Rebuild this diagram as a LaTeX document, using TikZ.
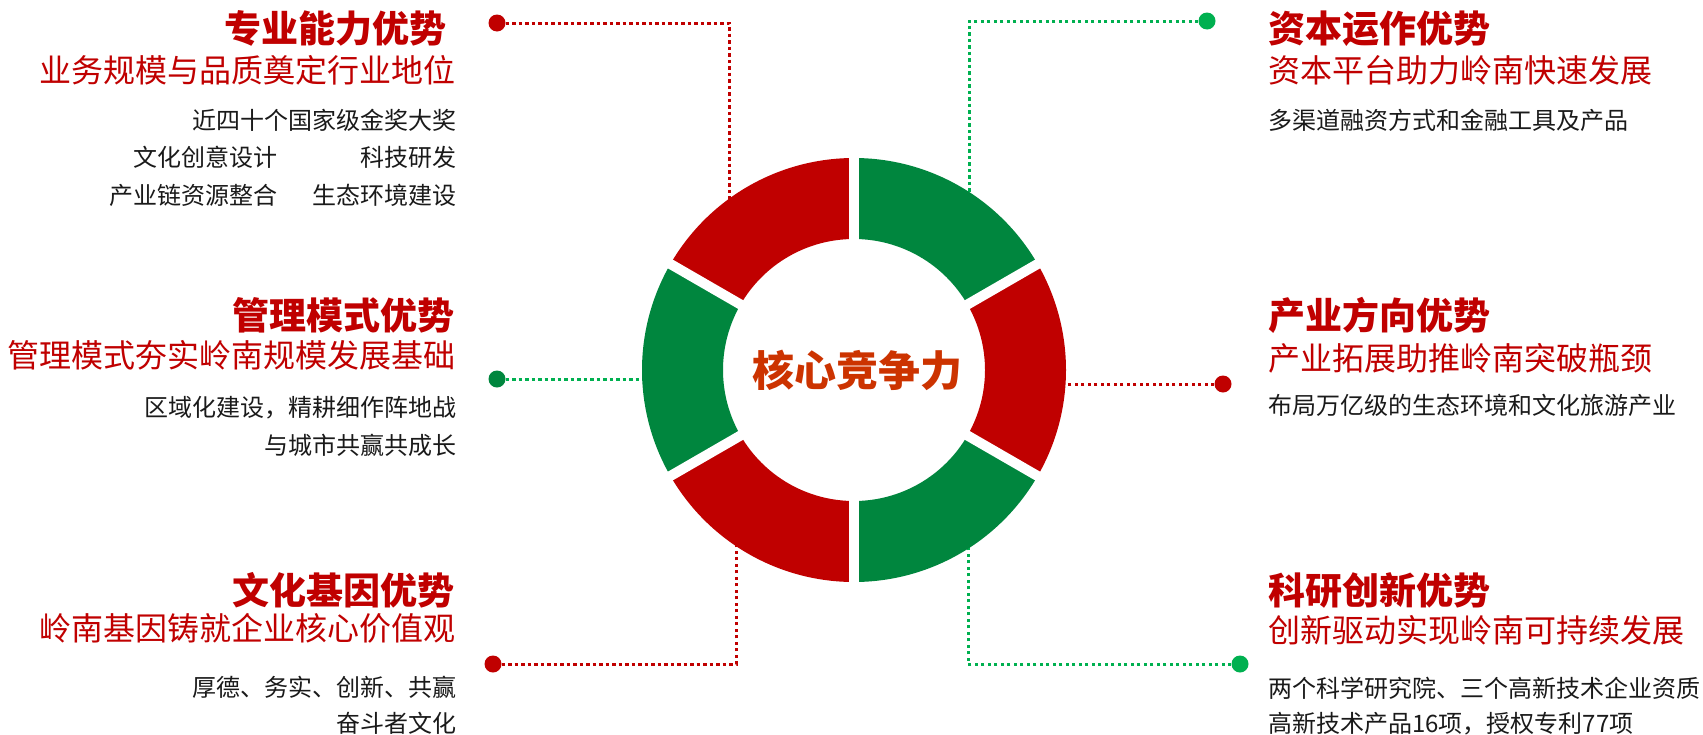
\documentclass[tikz,border=0pt]{standalone}
\usepackage{fontspec}
\setmainfont{Noto Sans CJK SC}
\usetikzlibrary{calc}
\definecolor{ringred}{RGB}{192,0,0}
\definecolor{ringgreen}{RGB}{0,134,62}
\definecolor{dotgreen}{RGB}{0,176,80}
\definecolor{coretext}{RGB}{204,51,0}
\definecolor{bodytext}{RGB}{26,26,26}
\tikzset{
  titletext/.style={font=\fontsize{37}{40}\selectfont\bfseries, text=ringred, inner sep=0pt},
  subtext/.style={font=\fontsize{32}{36}\selectfont, text=ringred, inner sep=0pt},
  bodytxt/.style={font=\fontsize{24}{28}\selectfont, text=bodytext, inner sep=0pt},
  reddots/.style={draw=ringred, line width=3pt, dash pattern=on 3.3pt off 3.2pt},
  greendots/.style={draw=dotgreen, line width=3pt, dash pattern=on 3.3pt off 3.2pt},
  enddot/.style={circle, minimum size=17pt, inner sep=0pt},
  gapline/.style={draw=white, line width=10pt},
}
\begin{document}
\begin{tikzpicture}[x=1pt,y=-1pt]
\useasboundingbox[fill=white] (0,0) rectangle (1703,734);
% centre
\coordinate (C) at (854,370);
% ring contact points
\coordinate (rTL) at (729,200);
\coordinate (rTR) at (969,198);
\coordinate (rL) at (646,379);
\coordinate (rR) at (1062,384);
\coordinate (rBL) at (736,542);
\coordinate (rBR) at (968,542);
% end dots
\node[enddot, fill=ringred] (dTL) at (497,23) {};
\node[enddot, fill=dotgreen] (dTR) at (1207,21) {};
\node[enddot, fill=ringgreen] (dL) at (497,379) {};
\node[enddot, fill=ringred] (dR) at (1223,384) {};
\node[enddot, fill=ringred] (dBL) at (493,664) {};
\node[enddot, fill=dotgreen] (dBR) at (1240,664) {};
% connectors
\draw[reddots] (dTL) -| (rTL);
\draw[greendots] (dTR) -| (rTR);
\draw[greendots] (dL) -- (rL);
\draw[reddots] (dR) -- (rR);
\draw[reddots] (dBL) -| (rBL);
\draw[greendots] (dBR) -| (rBR);
% ring sectors
\foreach \a/\b/\col in {30/90/ringgreen, 90/150/ringred, 150/210/ringgreen, 210/270/ringred, 270/330/ringgreen, -30/30/ringred}{
  \fill[\col] ($(C)+(\a:212)$) arc[start angle=\a, end angle=\b, radius=212]
     -- ($(C)+(\b:131)$) arc[start angle=\b, end angle=\a, radius=131] -- cycle;
}
\foreach \a in {30,90,150,210,270,330}{
  \draw[gapline] ($(C)+(\a:120)$) -- ($(C)+(\a:225)$);
}
\node[font=\fontsize{42}{46}\selectfont\bfseries, text=coretext, inner sep=0pt] (core) at (857,370) {核心竞争力};
% left top
\node[titletext, anchor=base east] (t1) at (447,42) {专业能力优势};
\node[subtext, anchor=base east] (s1) at (456,82) {业务规模与品质奠定行业地位};
\node[bodytxt, anchor=base east] (b1a) at (457,129) {近四十个国家级金奖大奖};
\node[bodytxt, anchor=base east] (b1b) at (278,166) {文化创意设计};
\node[bodytxt, anchor=base east] (b1c) at (457,166) {科技研发};
\node[bodytxt, anchor=base east] (b1d) at (278,204) {产业链资源整合};
\node[bodytxt, anchor=base east] (b1e) at (457,204) {生态环境建设};
% left middle
\node[titletext, anchor=base east] (t2) at (455,329) {管理模式优势};
\node[subtext, anchor=base east] (s2) at (456,367) {管理模式夯实岭南规模发展基础};
\node[bodytxt, anchor=base east] (b2a) at (457,416) {区域化建设，精耕细作阵地战};
\node[bodytxt, anchor=base east] (b2b) at (457,454) {与城市共赢共成长};
% left bottom
\node[titletext, anchor=base east] (t3) at (455,604) {文化基因优势};
\node[subtext, anchor=base east] (s3) at (456,640) {岭南基因铸就企业核心价值观};
\node[bodytxt, anchor=base east] (b3a) at (457,696) {厚德、务实、创新、共赢};
\node[bodytxt, anchor=base east] (b3b) at (457,732) {奋斗者文化};
% right top
\node[titletext, anchor=base west] (t4) at (1268,42) {资本运作优势};
\node[subtext, anchor=base west] (s4) at (1268,82) {资本平台助力岭南快速发展};
\node[bodytxt, anchor=base west] (b4a) at (1268,129) {多渠道融资方式和金融工具及产品};
% right middle
\node[titletext, anchor=base west] (t5) at (1268,329) {产业方向优势};
\node[subtext, anchor=base west] (s5) at (1268,370) {产业拓展助推岭南突破瓶颈};
\node[bodytxt, anchor=base west] (b5a) at (1268,414) {布局万亿级的生态环境和文化旅游产业};
% right bottom
\node[titletext, anchor=base west] (t6) at (1268,604) {科研创新优势};
\node[subtext, anchor=base west] (s6) at (1268,642) {创新驱动实现岭南可持续发展};
\node[bodytxt, anchor=base west] (b6a) at (1268,697) {两个科学研究院、三个高新技术企业资质};
\node[bodytxt, anchor=base west] (b6b) at (1268,732) {高新技术产品16项，授权专利77项};
\end{tikzpicture}
\end{document}
